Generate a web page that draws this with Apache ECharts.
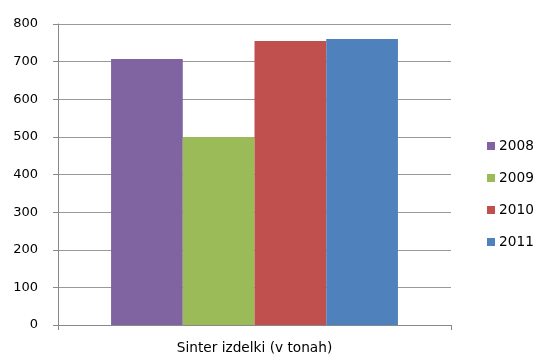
<!DOCTYPE html>
<html>
<head>
<meta charset="utf-8">
<script src="https://cdn.jsdelivr.net/npm/echarts@6/dist/echarts.min.js"></script>
<style>
  html, body { margin: 0; padding: 0; background: #fff; }
  #chart { width: 536px; height: 356px; }
</style>
</head>
<body>
<div id="chart"></div>
<script>
const categories = ['Sinter izdelki (v tonah)'];
const years = ['2008', '2009', '2010', '2011'];
const values2008 = [707];
const values2009 = [500];
const values2010 = [755];
const values2011 = [760];
const yTicks = [0, 100, 200, 300, 400, 500, 600, 700, 800];

const SERIES_COLORS = ['#8064a2', '#9bbb59', '#c0504d', '#4f81bd'];
const FONT = 'DejaVu Sans';

const chart = echarts.init(document.getElementById('chart'), null, { renderer: 'canvas' });

const seriesData = [values2008, values2009, values2010, values2011];

const option = {
  backgroundColor: '#fff',
  animation: false,
  grid: { left: 58, right: 85, top: 24, bottom: 31, containLabel: false },
  legend: {
    orient: 'vertical',
    left: 487,
    top: 139,
    padding: 0,
    itemWidth: 8,
    itemHeight: 8,
    itemGap: 18,
    icon: 'rect',
    data: years,
    textStyle: { fontFamily: FONT, fontSize: 13.7, color: '#000', padding: [0, 0, 0, -1] }
  },
  xAxis: {
    type: 'category',
    data: categories,
    axisLine: { lineStyle: { color: '#888', width: 1 } },
    axisTick: { show: true, length: 5, lineStyle: { color: '#888' } },
    axisLabel: { fontFamily: FONT, fontSize: 13.7, color: '#000', margin: 16 },
    splitLine: { show: false }
  },
  yAxis: {
    type: 'value',
    min: yTicks[0],
    max: yTicks[yTicks.length - 1],
    interval: 100,
    axisLine: { show: true, lineStyle: { color: '#888', width: 1 } },
    axisTick: { show: true, length: 5, lineStyle: { color: '#888' } },
    axisLabel: { fontFamily: FONT, fontSize: 13, color: '#000', margin: 20 },
    splitLine: { show: true, lineStyle: { color: '#999', width: 1 } }
  },
  series: years.map((year, i) => ({
    name: year,
    type: 'bar',
    data: seriesData[i],
    barGap: '0%',
    barCategoryGap: '27%',
    itemStyle: { color: SERIES_COLORS[i] }
  }))
};

chart.setOption(option);
</script>
</body>
</html>
